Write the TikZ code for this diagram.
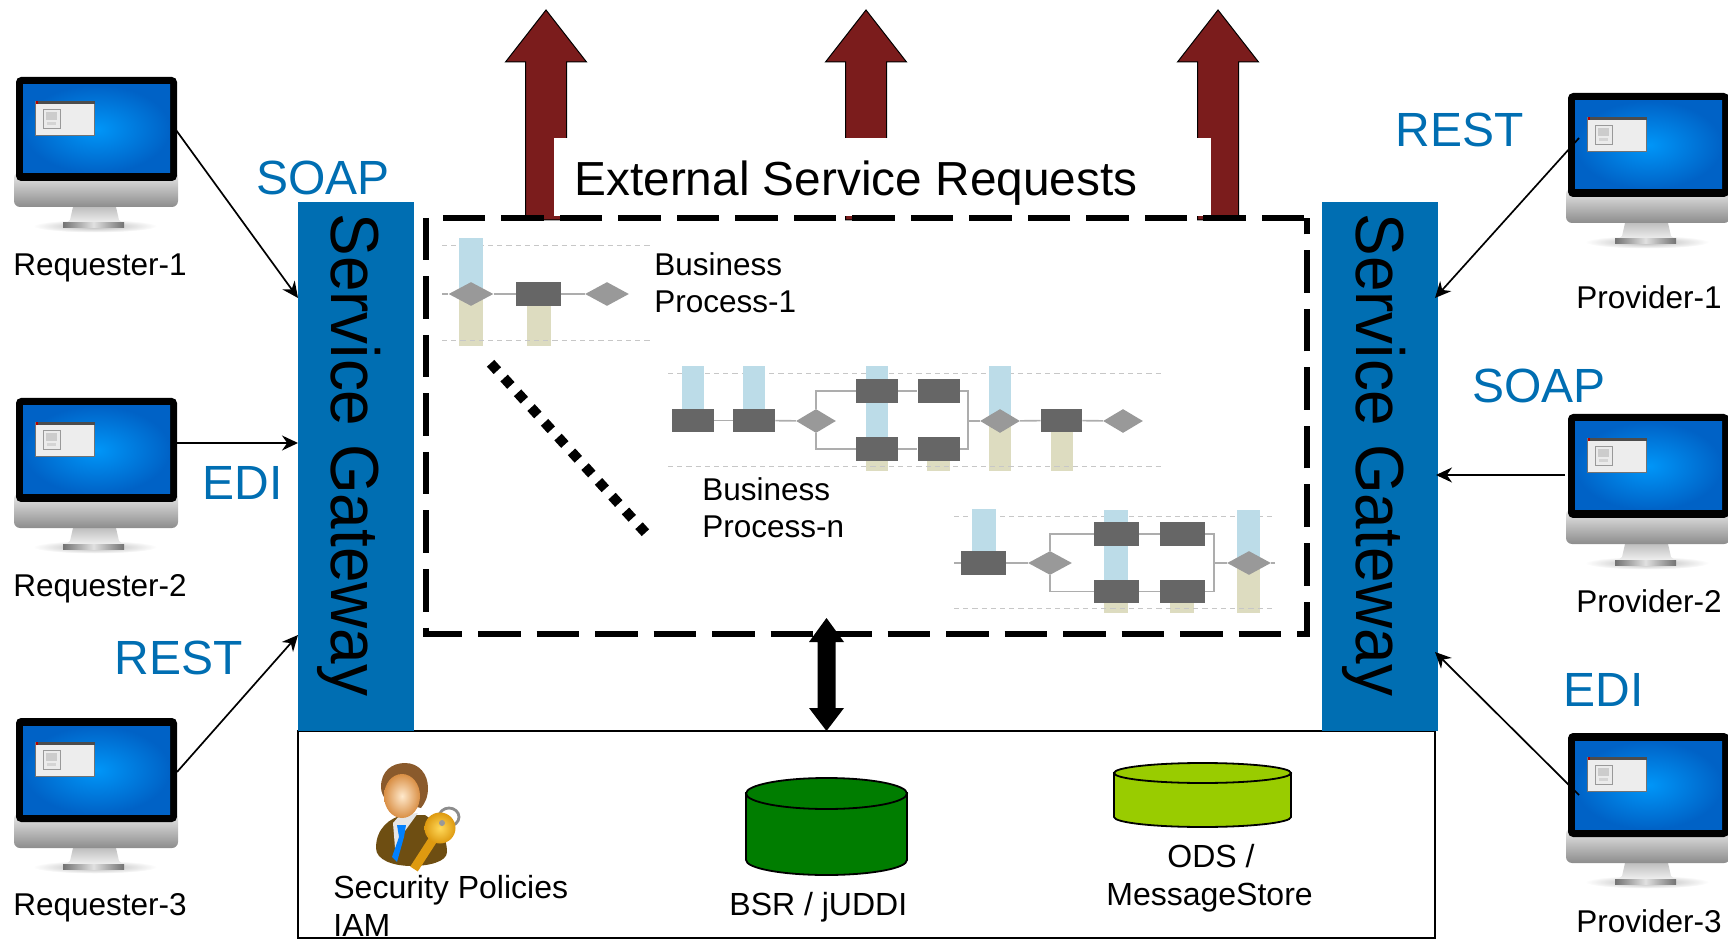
\documentclass[tikz,border=0pt]{standalone}
\usepackage{fontspec}
\setmainfont{Liberation Sans}
\usetikzlibrary{shapes.geometric,arrows.meta,calc}
\definecolor{gwblue}{HTML}{006EB2}
\definecolor{arrowred}{HTML}{7B1C1C}
\definecolor{barblue}{HTML}{BCDCE8}
\definecolor{bartan}{HTML}{DDDCC0}
\definecolor{taskgray}{HTML}{666666}
\definecolor{gategray}{HTML}{999999}
\definecolor{bsrgreen}{HTML}{007D00}
\definecolor{odsgreen}{HTML}{99CC00}
\definecolor{suit}{HTML}{6E4E12}
\definecolor{hair}{HTML}{8A5A2C}
\definecolor{skinlight}{HTML}{FFE9CC}
\definecolor{skindark}{HTML}{D98F45}
\definecolor{keylight}{HTML}{FFD95A}
\definecolor{keydark}{HTML}{DE9A10}
\tikzset{
  lbl/.style={anchor=base west,inner sep=0pt,align=left,font=\fontsize{15.75}{18.9}\selectfont},
  storelbl/.style={lbl,font=\fontsize{16}{18.9}\selectfont},
  proto/.style={anchor=base west,inner sep=0pt,text=gwblue,font=\fontsize{24}{28}\selectfont},
  gateway/.style={fill=gwblue,inner sep=0pt,minimum width=58pt,minimum height=264.5pt},
  gwtext/.style={anchor=base west,inner sep=0pt,rotate=-90,font=\fontsize{34}{40}\selectfont},
  link/.style={line width=0.85pt,-{Stealth[length=8pt,width=7.5pt]}},
  bptask/.style={fill=taskgray,draw=none,inner sep=0pt,minimum width=#1,minimum height=11.6pt},
  bptask/.default=21pt,
  bpgate/.style={diamond,fill=gategray,inner sep=0pt,minimum width=#1,minimum height=12pt},
  bpgate/.default=21pt,
  bpline/.style={line width=0.8pt,draw=black!32},
  guide/.style={line width=0.5pt,draw=black!22,dash pattern=on 2.6pt off 2pt},
  upbar/.style={fill=barblue},
  lowbar/.style={fill=bartan},
  dashbox/.style={line width=2.6pt,draw=black,dash pattern=on 21.25pt off 8pt},
  monitor/.pic={
    \shade[inner color=black!30,outer color=white] (79,149) ellipse [x radius=62,y radius=6.5];
    \shade[top color=black!25,bottom color=black!5] (57,130) -- (100,130) -- (103,143) -- (108,147) -- (49,147) -- (54,143) -- cycle;
    \shade[left color=black!55,right color=black!55,middle color=black!12] (47,146) rectangle (108,151);
    \shade[top color=black!8,bottom color=black!45,rounded corners=3pt] (-2,95) rectangle (162,130);
    \fill[black,rounded corners=2.5pt] (0,0) rectangle (161,104);
    \shade[inner color={rgb,255:red,0;green,150;blue,248},outer color={rgb,255:red,0;green,98;blue,198}] (7,8) rectangle (154,96);
    \fill[black!7] (19.5,24) rectangle (78.5,58);
    \draw[black!55,line width=0.3pt] (19.5,24) rectangle (78.5,58);
    \fill[black!70] (19.5,24) rectangle (78.5,27);
    \fill[red!70!black] (19.5,24) rectangle (22,27);
    \draw[black!40,fill=black!8,line width=0.3pt] (27,32) rectangle (44,51);
    \fill[black!20] (30,35) rectangle (41,43);
    \fill[black!17] (31,45) rectangle (40,48);
  }
}
\begin{document}
\begin{tikzpicture}[x=0.5pt,y=-0.5pt]
\useasboundingbox (0,0) rectangle (1728,940);

% storage box
\node[draw=black,line width=1pt,inner sep=0pt,minimum width=568.5pt,minimum height=103.5pt] (store) at (866.5,834.5) {};

% red arrows
\foreach \ax in {546,866,1218}{
  \draw[fill=arrowred,draw=black,line width=0.5pt,line join=miter]
    (\ax,10) -- (\ax+40.5,62) -- (\ax+20.5,62) -- (\ax+20.5,220) -- (\ax-20.5,220) -- (\ax-20.5,62) -- (\ax-40.5,62) -- cycle;
}
\node[fill=white,inner sep=0pt,minimum width=328.5pt,minimum height=39pt] (extbg) at (882.5,177) {};
\node[lbl,font=\fontsize{23.9}{28}\selectfont] (exttext) at (574,196) {External Service Requests};

% process frame
\coordinate (bw) at (426,218);
\coordinate (bs) at (426,634);
\coordinate (be) at (1307,634);
\coordinate (bn) at (1307,218);
\coordinate (bend) at (442,218);
\draw[dashbox] (bw) -- (bs) -- (be) -- (bn);
\draw[dashbox,dash phase=27.75pt] (bn) -- (bend);

% gateways
\node[gateway] (gwl) at (356,466.5) {};
\node[gateway] (gwr) at (1380,466.5) {};
\node[gwtext] (gwlt) at (331,213) {\scalebox{0.94}[1]{Service Gateway}};
\node[gwtext] (gwrt) at (1356,213) {\scalebox{0.94}[1]{Service Gateway}};

% monitors
\pic at (16,77) {monitor};
\pic at (16,398) {monitor};
\pic at (16,718) {monitor};
\pic at (1568,93) {monitor};
\pic at (1568,414) {monitor};
\pic at (1568,733) {monitor};

% connector ends
\coordinate (r1) at (176,130);
\coordinate (r2) at (176,443);
\coordinate (r3) at (177,772);
\coordinate (p1) at (1579,138);
\coordinate (p2) at (1565,475);
\coordinate (p3) at (1579,795);
\coordinate (gl1) at (298,298);
\coordinate (gl2) at (298,443);
\coordinate (gl3) at (298,635);
\coordinate (gr1) at (1435,298);
\coordinate (gr2) at (1436,475);
\coordinate (gr3) at (1435,652);
\draw[link] (r1) -- (gl1);
\draw[link] (r2) -- (gl2);
\draw[link] (r3) -- (gl3);
\draw[link] (p1) -- (gr1);
\draw[link] (p2) -- (gr2);
\draw[link] (p3) -- (gr3);

% labels
\node[lbl] (lr1) at (13,276) {Requester-1};
\node[lbl] (lr2) at (13,596) {Requester-2};
\node[lbl] (lr3) at (13,915) {Requester-3};
\node[lbl] (lp1) at (1576,309) {Provider-1};
\node[lbl] (lp2) at (1576,612) {Provider-2};
\node[lbl] (lp3) at (1576,932) {Provider-3};
\node[proto] (t1) at (256,195) {SOAP};
\node[proto] (t2) at (202,500) {EDI};
\node[proto] (t3) at (114,674) {REST};
\node[proto] (t4) at (1395,147) {REST};
\node[proto] (t5) at (1472,403) {SOAP};
\node[proto] (t6) at (1563,706) {EDI};

% business process 1
\draw[guide] (442,246) -- (650,246);
\fill[upbar] (459,238) rectangle (483,294);
\fill[lowbar] (459,294) rectangle (483,346);
\fill[lowbar] (527,300) rectangle (551,346);
\draw[guide] (442,341) -- (650,341);
\coordinate (a0) at (442,294);
\node[bpgate=22.5pt] (a1) at (471,294) {};
\node[bptask=22.5pt] (a2) at (538.5,294) {};
\node[bpgate=22pt] (a3) at (607,294) {};
\draw[bpline] (a0) -- (a1);
\draw[bpline] (a1) -- (a2);
\draw[bpline] (a2) -- (a3);
\node[lbl] (lb1) at (654,313) {Business\\Process-1};

% dotted diagonal
\coordinate (dd1) at (490.6,363.3);
\coordinate (dd2) at (645.4,532.7);
\draw[line width=5pt,dash pattern=on 5pt off 5pt] (dd1) -- (dd2);

% business process 2
\draw[guide] (668,374) -- (1163,374);
\fill[upbar] (682,366) rectangle (704,415);
\fill[upbar] (743,366) rectangle (765,415);
\fill[upbar] (866,366) rectangle (888,445);
\fill[lowbar] (866,455) rectangle (888,471);
\fill[lowbar] (927,455) rectangle (950,471);
\fill[upbar] (989,366) rectangle (1011,421);
\fill[lowbar] (989,421) rectangle (1011,471);
\fill[lowbar] (1051,425) rectangle (1073,471);
\draw[guide] (668,467) -- (1163,467);
\node[bptask] (b1) at (693,420.5) {};
\node[bptask] (b2) at (754,420.5) {};
\node[bpgate=20pt] (b3) at (816,421) {};
\node[bptask] (b4) at (877,391) {};
\node[bptask] (b5) at (877,449) {};
\node[bptask] (b6) at (938.5,391) {};
\node[bptask] (b7) at (938.5,449) {};
\coordinate (bm) at (968,421);
\node[bpgate=20pt] (b8) at (1000,421) {};
\node[bptask=20.5pt] (b9) at (1061.5,420.5) {};
\node[bpgate=20pt] (b10) at (1123,421) {};
\draw[bpline] (b1) -- (b2);
\draw[bpline] (b2) -- (b3);
\draw[bpline] (b3.north) |- (b4.west);
\draw[bpline] (b3.south) |- (b5.west);
\draw[bpline] (b4) -- (b6);
\draw[bpline] (b5) -- (b7);
\draw[bpline] (b6.east) -| (bm);
\draw[bpline] (b7.east) -| (bm);
\draw[bpline] (bm) -- (b8.west);
\draw[bpline] (b8) -- (b9);
\draw[bpline] (b9) -- (b10);
\node[lbl] (lbn) at (702,538) {Business\\Process-n};

% business process 3
\draw[guide] (954,517) -- (1274,517);
\fill[upbar] (972,509) rectangle (996,556);
\fill[upbar] (1104,510) rectangle (1128,585);
\fill[lowbar] (1104,598) rectangle (1128,613);
\fill[lowbar] (1170,598) rectangle (1194,613);
\fill[upbar] (1237,510) rectangle (1260,563);
\fill[lowbar] (1237,563) rectangle (1260,613);
\draw[guide] (954,608) -- (1274,608);
\coordinate (c0) at (954,563);
\node[bptask=22.5pt] (c1) at (983.5,563) {};
\node[bpgate=22pt] (c2) at (1050,563) {};
\node[bptask=22.5pt] (c3) at (1116.5,534) {};
\node[bptask=22.5pt] (c4) at (1116.5,591.5) {};
\node[bptask=22.5pt] (c5) at (1182.5,534) {};
\node[bptask=22.5pt] (c6) at (1182.5,591.5) {};
\coordinate (cm) at (1214,563);
\node[bpgate=22pt] (c7) at (1249,563) {};
\coordinate (c8) at (1275,563);
\draw[bpline] (c0) -- (c1);
\draw[bpline] (c1) -- (c2);
\draw[bpline] (c2.north) |- (c3.west);
\draw[bpline] (c2.south) |- (c4.west);
\draw[bpline] (c3) -- (c5);
\draw[bpline] (c4) -- (c6);
\draw[bpline] (c5.east) -| (cm);
\draw[bpline] (c6.east) -| (cm);
\draw[bpline] (cm) -- (c7.west);
\draw[bpline] (c7) -- (c8);

% double arrow
\fill[black] (826.5,618) -- (844,642) -- (835.5,642) -- (835.5,708) -- (844,708) -- (826.5,731) -- (809,708) -- (817.5,708) -- (817.5,642) -- (809,642) -- cycle;

% person with key
\fill[suit] (376,848) .. controls (376,828) and (390,818) .. (403,815) -- (425,815) .. controls (436,822) and (447,835) .. (447,852) .. controls (447,862) and (428,866) .. (412,866) .. controls (393,866) and (376,860) .. (376,848) -- cycle;
\fill[black!10] (393,823) -- (400,815) -- (418,813) -- (402,835) -- (396,860) -- cycle;
\fill[blue!50!cyan] (397,825) -- (406,825) -- (404,837) -- (397,862) -- (392,857) -- (399,837) -- cycle;
\fill[hair] (381,787) .. controls (381,771) and (392,763) .. (405,763) .. controls (419,763) and (428,774) .. (428,788) .. controls (428,797) and (425,803) .. (421,808) -- (386,800) .. controls (383,796) and (381,792) .. (381,787) -- cycle;
\shade[inner color=skinlight,outer color=skindark] (402,796) ellipse [x radius=18,y radius=22];
\draw[black!45,line width=1.4pt] (449,817) ellipse [x radius=10,y radius=9];
\draw[line width=4.5pt,draw=keydark] (434,838) -- (414,869);
\shade[inner color=keylight,outer color=keydark] (440,828) circle [radius=15.5];
\fill[black!40] (442,823) circle [radius=3];

% cylinders
\draw[fill=bsrgreen,line width=0.9pt] (746,793) -- (746,860) arc[start angle=180,end angle=0,x radius=80.5,y radius=15] -- (907,793) -- cycle;
\draw[fill=bsrgreen,line width=0.9pt] (826.5,793.5) ellipse [x radius=80.5,y radius=15.5];
\draw[fill=odsgreen,line width=0.9pt] (1114,773) -- (1114,817) arc[start angle=180,end angle=0,x radius=88.5,y radius=10] -- (1291,773) -- cycle;
\draw[fill=odsgreen,line width=0.9pt] (1202.5,773) ellipse [x radius=88.5,y radius=10];

% store labels
\node[storelbl] (ls1) at (333,936) {Security Policies\\IAM};
\node[storelbl] (ls2) at (729,915) {BSR / jUDDI};
\node[storelbl] (ls3) at (1167,867) {ODS /};
\node[storelbl] (ls4) at (1106,905) {MessageStore};
\end{tikzpicture}
\end{document}
